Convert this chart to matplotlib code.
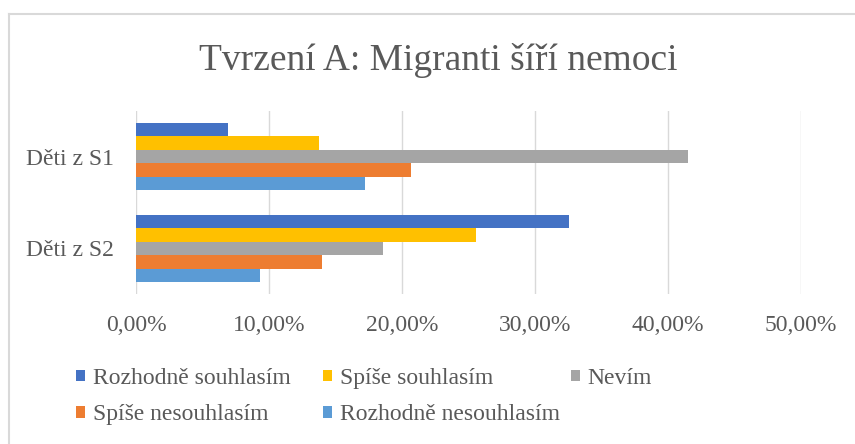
import matplotlib
matplotlib.use("Agg")
import matplotlib.pyplot as plt
from matplotlib.ticker import FuncFormatter, MultipleLocator
from matplotlib.patches import Patch
from matplotlib.lines import Line2D

plt.rcParams['font.family'] = ['Liberation Serif', 'DejaVu Serif']

# data (hodnoty v %)
skupiny = ['Děti z S2', 'Děti z S1']
odpovedi = ['Rozhodně souhlasím', 'Spíše souhlasím', 'Nevím',
            'Spíše nesouhlasím', 'Rozhodně nesouhlasím']
barvy = ['#4472C4', '#FFC000', '#A5A5A5', '#ED7D31', '#5B9BD5']
# poradi hodnot: [S2, S1]
rozhodne_souhlasim = [32.6, 6.9]
spise_souhlasim = [25.6, 13.8]
nevim = [18.6, 41.5]
spise_nesouhlasim = [14.0, 20.7]
rozhodne_nesouhlasim = [9.3, 17.2]
hodnoty = [rozhodne_souhlasim, spise_souhlasim, nevim,
           spise_nesouhlasim, rozhodne_nesouhlasim]

seda = '#595959'
fig = plt.figure(figsize=(8.55, 4.44), dpi=100)
ax = fig.add_axes([136 / 855, 1 - 294.3 / 444, (800.7 - 136) / 855, (294.3 - 110.7) / 444])

h = 0.147
for i in range(5):
    pozice = [k + (2 - i) * h for k in range(len(skupiny))]
    ax.barh(pozice, hodnoty[i], height=h, color=barvy[i], zorder=3)

ax.set_xlim(0, 50)
ax.set_ylim(-0.5, 1.5)
ax.xaxis.set_major_locator(MultipleLocator(10))
ax.xaxis.set_major_formatter(FuncFormatter(lambda v, p: f"{v:.2f}%".replace('.', ',')))
ax.set_yticks(range(len(skupiny)))
ax.set_yticklabels(skupiny)
ax.grid(axis='x', color='#D9D9D9', linewidth=1.0, zorder=0)
for s in ax.spines.values():
    s.set_visible(False)
ax.tick_params(axis='both', length=0, labelsize=17, labelcolor=seda)
ax.tick_params(axis='x', pad=15)
ax.tick_params(axis='y', pad=16)

fig.text(0.513, 1 - 70 / 444, 'Tvrzení A: Migranti šíří nemoci', fontsize=27,
         color=seda, ha='center', va='baseline')

# ramecek grafu
fig.add_artist(Line2D([8.5 / 855, 8.5 / 855], [0, 1 - 14 / 444], transform=fig.transFigure,
                      color='#D9D9D9', linewidth=1.5))
fig.add_artist(Line2D([8.5 / 855, 1], [1 - 14 / 444, 1 - 14 / 444], transform=fig.transFigure,
                      color='#D9D9D9', linewidth=1.5))

# legenda ve trech sloupcich
sloupce = [[0, 3], [1, 4], [2]]
x_sloupce = [76, 323, 571]
for j, idx in enumerate(sloupce):
    handles = [Patch(facecolor=barvy[i], edgecolor='none') for i in idx]
    labels = [odpovedi[i] for i in idx]
    leg = fig.legend(handles, labels, loc='upper left',
                     bbox_to_anchor=(x_sloupce[j] / 855, 1 - 368 / 444),
                     frameon=False, prop={'family': ['Liberation Serif'], 'size': 17},
                     handlelength=0.36, handleheight=0.36,
                     handletextpad=0.35, labelspacing=0.65, borderpad=0, borderaxespad=0)
    for t in leg.get_texts():
        t.set_color(seda)

fig.savefig('out.png', dpi=100)
